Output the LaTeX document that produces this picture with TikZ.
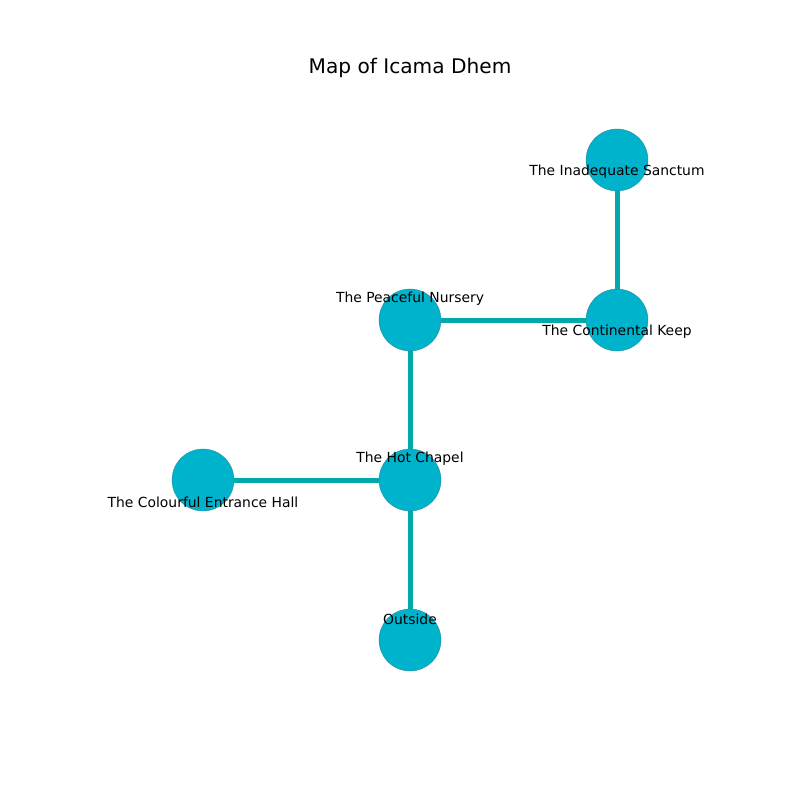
\documentclass[tikz,border=0pt]{standalone}
\usepackage{fontspec}
\setmainfont{DejaVu Sans}
\usepackage{xcolor}
\definecolor{roomblue}{HTML}{00B3CC}
\definecolor{roomedge}{HTML}{2A8C9C}
\definecolor{passteal}{HTML}{00AAAA}
\tikzset{
  room/.style={circle, fill=roomblue, draw=roomedge, line width=0.3pt,
    minimum size=44.6pt, inner sep=0pt},
  passage/.style={draw=passteal, line width=3.6pt},
  roomlabel/.style={font=\fontsize{10}{12}\selectfont, inner sep=0pt}
}

\begin{document}
\begin{tikzpicture}[x=0.72pt, y=-0.72pt]
    \useasboundingbox (0,0) rectangle (800,800);
    \node[font=\fontsize{14.5}{17}\selectfont] (title) at (410,68) {Map of Icama Dhem};

    % rooms
    \node[room] (sanctum) at (617,160) {};
    \node[room] (keep) at (617,320) {};
    \node[room] (nursery) at (410,320) {};
    \node[room] (chapel) at (410,480) {};
    \node[room] (hall) at (203,480) {};
    \node[room] (outside) at (410,640) {};

    % passages
    \draw[passage] (sanctum) -- (keep);
    \draw[passage] (keep) -- (nursery);
    \draw[passage] (nursery) -- (chapel);
    \draw[passage] (chapel) -- (hall);
    \draw[passage] (chapel) -- (outside);

    % labels
    \node[roomlabel] at ([yshift=-8.6pt]sanctum.center) {The Inadequate Sanctum};
    \node[roomlabel] at ([yshift=-8.6pt]keep.center) {The Continental Keep};
    \node[roomlabel] at ([yshift=15.2pt]nursery.center) {The Peaceful Nursery};
    \node[roomlabel] at ([yshift=15.2pt]chapel.center) {The Hot Chapel};
    \node[roomlabel] at ([yshift=-16.1pt]hall.center) {The Colourful Entrance Hall};
    \node[roomlabel] at ([yshift=15.2pt]outside.center) {Outside};
  \end{tikzpicture}
\end{document}
